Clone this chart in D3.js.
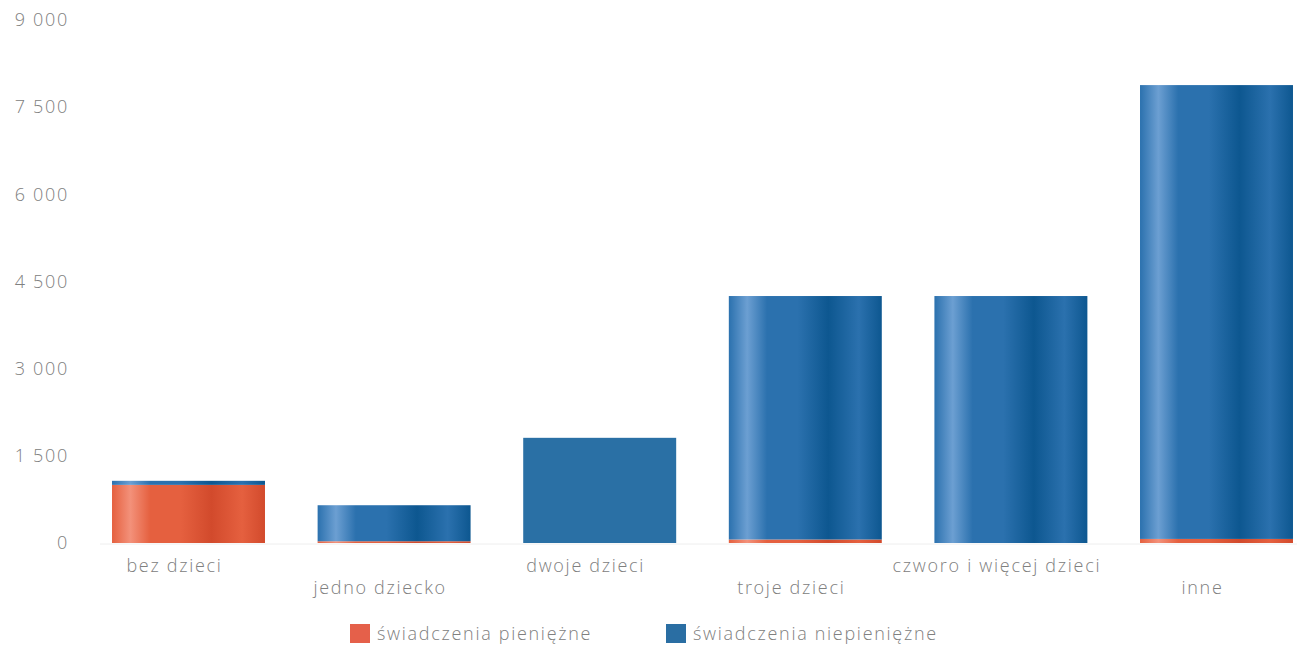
<!DOCTYPE html>
<html><head><meta charset="utf-8">
<script src="https://cdn.jsdelivr.net/npm/d3@7"></script>
<style>
body{margin:0;background:#fff;}
text{font-family:"Open Sans",sans-serif;}
</style></head>
<body><svg id="c" width="1297" height="645"></svg>
<script>
const categories = ["bez dzieci","jedno dziecko","dwoje dzieci","troje dzieci","czworo i więcej dzieci","inne"];
const seriesNames = ["świadczenia pieniężne","świadczenia niepieniężne"];
const pieniezne = [1000, 30, 0, 60, 0, 70];
const niepieniezne = [70, 620, 1810, 4190, 4250, 7810];
const yTicks = [0,1500,3000,4500,6000,7500,9000];

const svg = d3.select("#c");
const defs = svg.append("defs");
function grad(id, light, base, dark){
  const g = defs.append("linearGradient").attr("id",id).attr("x1","0%").attr("x2","100%").attr("y1","0").attr("y2","0");
  [[0,base],[0.12,light],[0.25,base],[0.45,base],[0.65,dark],[0.85,base],[1,dark]].forEach(([o,c])=>g.append("stop").attr("offset",o).attr("stop-color",c));
}
grad("gRed","#f3917a","#e5603f","#d24a2c");
grad("gBlue","#6c9fd2","#2b71ae","#0d5790");
const flat = ["gRed","gBlue"];

const y = d3.scaleLinear().domain([0,9000]).range([543,20]);
const x = d3.scaleBand().domain(categories).range([85.7,1319.3]).paddingInner(0.256).paddingOuter(0.128);

const fontStyle = sel => sel.attr("fill","#808080").style("font-size","18px").style("font-weight","300").style("letter-spacing","1.7px");

// baseline
svg.append("line").attr("x1",100).attr("x2",1297).attr("y1",y(0)+1).attr("y2",y(0)+1).attr("stroke","#eeeeee");

// y axis
const fmt = v => d3.format(",")(v).replace(/,/g," ");
const ya = svg.append("g").attr("transform","translate(69,0)")
  .call(d3.axisLeft(y).tickValues(yTicks).tickSize(0).tickPadding(0).tickFormat(fmt));
ya.select(".domain").remove();
ya.selectAll("text").call(fontStyle).attr("font-family",null);

// stacked bars
const data = categories.map((c,i)=>({c, v:[pieniezne[i], niepieniezne[i]]}));
data.forEach((d,i)=>{
  let acc = 0;
  d.v.forEach((val,s)=>{
    if(val<=0) return;
    const y0 = y(acc), y1 = y(acc+val);
    svg.append("rect").attr("x",x(d.c)).attr("width",x.bandwidth())
      .attr("y",y1).attr("height",y0-y1)
      .attr("fill", i===2 ? (s===0?"#e5603f":"#2a70a5") : `url(#${flat[s]})`);
    acc += val;
  });
});

// x labels (staggered)
svg.append("g").selectAll("text").data(categories).join("text")
  .attr("x",d=>x(d)+x.bandwidth()/2-14)
  .attr("y",(d,i)=> i%2===0 ? 572 : 594)
  .attr("text-anchor","middle").call(fontStyle).text(d=>d);

// legend
const leg = [{n:seriesNames[0],c:"#e5604a",x:350},{n:seriesNames[1],c:"#2a6ea3",x:666}];
leg.forEach(l=>{
  svg.append("rect").attr("x",l.x).attr("y",624).attr("width",20).attr("height",19).attr("fill",l.c);
  svg.append("text").attr("x",l.x+27).attr("y",640).call(fontStyle).text(l.n);
});
</script></body></html>
